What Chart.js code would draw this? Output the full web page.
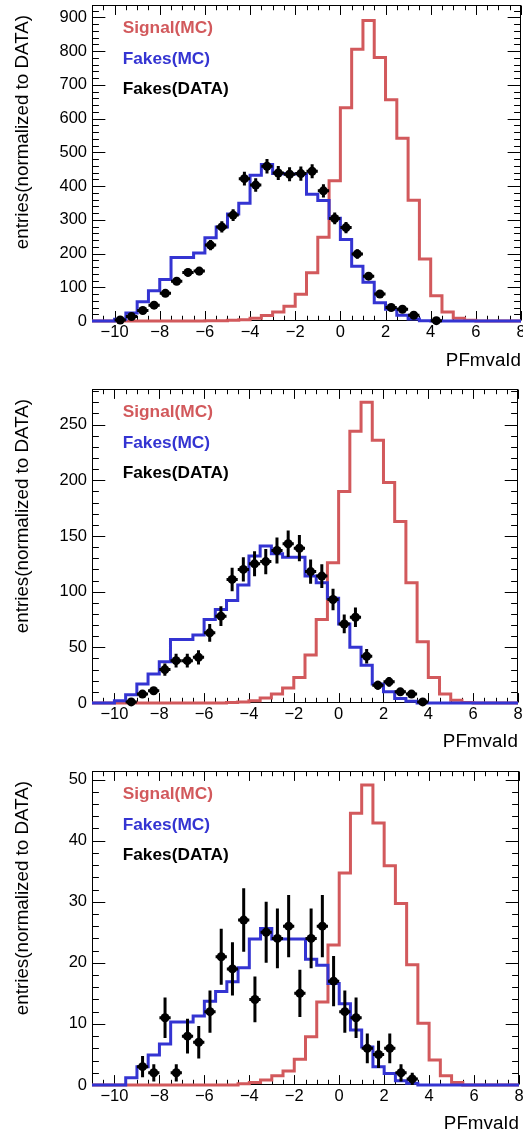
<!DOCTYPE html>
<html><head><meta charset="utf-8">
<script src="https://cdn.jsdelivr.net/npm/chart.js@4.4.1/dist/chart.umd.min.js"></script>
<style>
html,body{margin:0;padding:0;background:#fff;overflow:hidden;width:523px;height:1138px;position:relative;}
canvas{position:absolute;left:0;}
</style></head><body>
<canvas id="c1" width="540" height="377" style="top:-5px"></canvas>
<canvas id="c2" width="540" height="374" style="top:379px"></canvas>
<canvas id="c3" width="540" height="374" style="top:761px"></canvas>
<script>
// ---- data ----
const binEdges = [-11,-10.5,-10,-9.5,-9,-8.5,-8,-7.5,-7,-6.5,-6,-5.5,-5,-4.5,-4,-3.5,-3,-2.5,-2,-1.5,-1,-0.5,0,0.5,1,1.5,2,2.5,3,3.5,4,4.5,5,5.5,6,6.5,7,7.5,8];
const xTickValues = [-10,-8,-6,-4,-2,0,2,4,6,8];
const legendLabels = ['Signal(MC)','Fakes(MC)','Fakes(DATA)'];
const xTitle = 'PFmvaId';
const yTitle = 'entries(normalized to DATA)';

const signal1 = [0,0,0,0,0,0,0,0,0,0,0.5,1,2,4,8,16,27,44,79,143,248,416,632,806,891,781,656,542,358,184,75,27,8,2,0,0,0,0];
const fakesMC1 = [0,0,5,24,57,90,123,188,188,202,247,279,317,349,432,464,437,436,436,376,357,305,242,162,115,54,35,17,6,1,0,0,0,0,0,0,0,0];
const data1 = [null,null,3,13,31,47,82,118,144,148,225,279,314,422,403,459,439,435,437,444,386,304,277,199,133,80,40,35,17,null,1,null,null,null,null,null,null,null];
const yTicks1 = [0,100,200,300,400,500,600,700,800,900];

const signal2 = [0,0,0,0,0,0,0,0,0,0,0,0,0.5,1,2,4.5,8,13.5,23,43,75,126,190,244,270,236,198,163,108,55,23,8,2.4,0.5,0,0,0,0];
const fakesMC2 = [0,0,2,7.5,17,26,37,57,57,61,75,84,92,106,132,141,134,131,131,114,108,94,71,50,34,17,10,4,1.5,0,0,0,0,0,0,0,0,0];
const data2 = [null,null,null,1,8,11,30,38,38,41,63,78,111,120,125,127,137,143,139,118,114,93,71,77,42,16,19,10,8,1,null,null,null,null,null,null,null,null];
const yTicks2 = [0,50,100,150,200,250];

const signal3 = [0,0,0,0,0,0,0,0,0,0,0,0,0,0.2,0.4,0.8,1.5,2.3,4.2,7.9,13.6,22.9,34.7,44.5,49.1,42.9,35.9,29.7,19.7,10.1,4.1,1.5,0.4,0,0,0,0,0];
const fakesMC3 = [0,0,0,1.2,3.0,4.9,6.7,10.3,10.3,11.3,13.7,15.3,16.9,19.2,23.9,25.6,23.9,23.9,23.9,20.6,19.6,16.6,13.3,9.0,6.2,3.0,1.9,0.7,0.3,0,0,0,0,0,0,0,0,0];
const data3 = [null,null,null,null,3,2,11,2,8,7,12,21,19,27,14,25,24,26,15,24,26,17,12,11,6,5,6,2,1,null,null,null,null,null,null,null,null,null];
const yTicks3 = [0,10,20,30,40,50];

// ---- style ----
const FONT = "'Liberation Sans', Arial, Helvetica, sans-serif";
const RED = '#d2595c';
const BLUE = '#3434d2';
const legendColors = [RED, BLUE, '#000'];

const fmt = v => (v < 0 ? '\u2212' + Math.abs(v) : String(v));

const histPlugin = {
  id: 'histDeco',
  beforeDatasetsDraw(chart) {
    const o = chart.options.plugins.histDeco;
    const {ctx, chartArea: a, scales: {x, y}} = chart;
    ctx.save();
    ctx.strokeStyle = '#000';
    ctx.lineWidth = 1;
    const L = Math.round(a.left) + 0.5, R = Math.round(a.right) - 0.5;
    const T = Math.round(a.top) + 0.5, B = Math.round(a.bottom) - 0.5;
    ctx.strokeRect(L, T, R - L, B - T);
    const xMaj = 0.03 * (a.bottom - a.top), yMaj = 0.03 * (a.right - a.left);
    ctx.beginPath();
    for (let v = x.min; v <= x.max + 1e-9; v += o.xMinor) {
      const major = xTickValues.some(t => Math.abs(t - v) < 1e-9);
      const len = major ? xMaj : xMaj / 2;
      const px = Math.round(x.getPixelForValue(v)) + 0.5;
      ctx.moveTo(px, B); ctx.lineTo(px, B - len);
      ctx.moveTo(px, T); ctx.lineTo(px, T + len);
    }
    for (let v = 0; v <= y.max + 1e-9; v += o.yMinor) {
      const major = o.yTicks.some(t => Math.abs(t - v) < 1e-6);
      const len = major ? yMaj : yMaj / 2;
      const py = Math.round(y.getPixelForValue(v)) + 0.5;
      ctx.moveTo(L, py); ctx.lineTo(L + len, py);
      ctx.moveTo(R, py); ctx.lineTo(R - len, py);
    }
    ctx.stroke();
    ctx.restore();
  },
  afterDatasetsDraw(chart) {
    const {ctx, scales: {x, y}} = chart;
    const halfBin = (binEdges[1] - binEdges[0]) / 2;
    chart.data.datasets.forEach(ds => {
      if (!ds.errorBars) return;
      ctx.save();
      ctx.strokeStyle = '#000';
      ctx.lineWidth = 3;
      ds.data.forEach(p => {
        const e = Math.sqrt(p.y);
        const px = x.getPixelForValue(p.x), py = y.getPixelForValue(p.y);
        ctx.beginPath();
        ctx.moveTo(px, y.getPixelForValue(p.y - e));
        ctx.lineTo(px, y.getPixelForValue(p.y + e));
        ctx.moveTo(x.getPixelForValue(p.x - halfBin), py);
        ctx.lineTo(x.getPixelForValue(p.x + halfBin), py);
        ctx.stroke();
      });
      ctx.restore();
    });
  },
  afterDraw(chart) {
    const {ctx, chartArea: a} = chart;
    ctx.save();
    // legend
    ctx.font = 'bold 17.3px ' + FONT;
    ctx.textAlign = 'left';
    ctx.textBaseline = 'alphabetic';
    const base = [28, 58.5, 88.5];
    legendLabels.forEach((t, i) => {
      ctx.fillStyle = legendColors[i];
      ctx.fillText(t, a.left + 30.7, a.top + base[i]);
    });
    // y title
    ctx.font = '18.8px ' + FONT;
    ctx.fillStyle = '#000';
    ctx.translate(22.5, a.top + 10);
    ctx.rotate(-Math.PI / 2);
    ctx.textAlign = 'right';
    ctx.textBaseline = 'middle';
    ctx.fillText(yTitle, 0, 0);
    ctx.restore();
  }
};

function stepPoints(vals) {
  const pts = vals.map((v, i) => ({x: binEdges[i], y: v}));
  pts.push({x: binEdges[binEdges.length - 1], y: vals[vals.length - 1]});
  return pts;
}
function dataPoints(vals) {
  const pts = [];
  vals.forEach((v, i) => { if (v !== null) pts.push({x: (binEdges[i] + binEdges[i + 1]) / 2, y: v}); });
  return pts;
}

function makeChart(id, signal, fakes, data, yMax, yTicks, yMinor, frameRight, xScaleH) {
  const el = document.getElementById(id);
  const W = el.width;
  return new Chart(el, {
    type: 'scatter',
    data: {
      datasets: [
        {label: legendLabels[2], data: dataPoints(data), showLine: false, pointRadius: 4.5,
         pointBackgroundColor: '#000', pointBorderColor: '#000', pointBorderWidth: 0,
         errorBars: true, order: 0, clip: false},
        {label: legendLabels[1], data: stepPoints(fakes), showLine: true, stepped: true,
         borderColor: BLUE, borderWidth: 3, pointRadius: 0, fill: false, order: 1, clip: false,
         borderJoinStyle: 'miter', borderCapStyle: 'butt'},
        {label: legendLabels[0], data: stepPoints(signal), showLine: true, stepped: true,
         borderColor: RED, borderWidth: 3, pointRadius: 0, fill: false, order: 2, clip: false,
         borderJoinStyle: 'miter', borderCapStyle: 'butt'}
      ]
    },
    options: {
      responsive: false, animation: false, events: [],
      layout: {padding: {top: 10, left: 0, right: W - frameRight, bottom: 0}},
      plugins: {
        legend: {display: false}, tooltip: {enabled: false},
        histDeco: {xMinor: 0.5, yMinor: yMinor, yTicks: yTicks}
      },
      scales: {
        x: {
          type: 'linear', min: binEdges[0], max: binEdges[binEdges.length - 1],
          grid: {display: false, drawTicks: false}, border: {display: false},
          afterBuildTicks: s => { s.ticks = xTickValues.map(v => ({value: v})); },
          afterFit: s => { s.height = xScaleH; s.paddingLeft = 0; s.paddingRight = 0; },
          ticks: {autoSkip: false, maxRotation: 0, padding: 2, color: '#000',
                  font: {family: FONT, size: 16.5}, callback: v => fmt(v)},
          title: {display: true, text: xTitle, align: 'end', color: '#000',
                  font: {family: FONT, size: 18.8}, padding: {top: 0, bottom: 0}}
        },
        y: {
          type: 'linear', min: 0, max: yMax,
          grid: {display: false, drawTicks: false}, border: {display: false},
          afterBuildTicks: s => { s.ticks = yTicks.map(v => ({value: v})); },
          afterFit: s => { s.width = 92; s.paddingTop = 0; s.paddingBottom = 0; },
          ticks: {autoSkip: false, padding: 5, color: '#000',
                  font: {family: FONT, size: 16.5}, callback: v => fmt(v)}
        }
      }
    },
    plugins: [histPlugin]
  });
}

makeChart('c1', signal1, fakesMC1, data1, 937, yTicks1, 20, 521, 51);
makeChart('c2', signal2, fakesMC2, data2, 282, yTicks2, 10, 518, 50);
makeChart('c3', signal3, fakesMC3, data3, 51.4, yTicks3, 2, 519, 50);
</script>
</body></html>
